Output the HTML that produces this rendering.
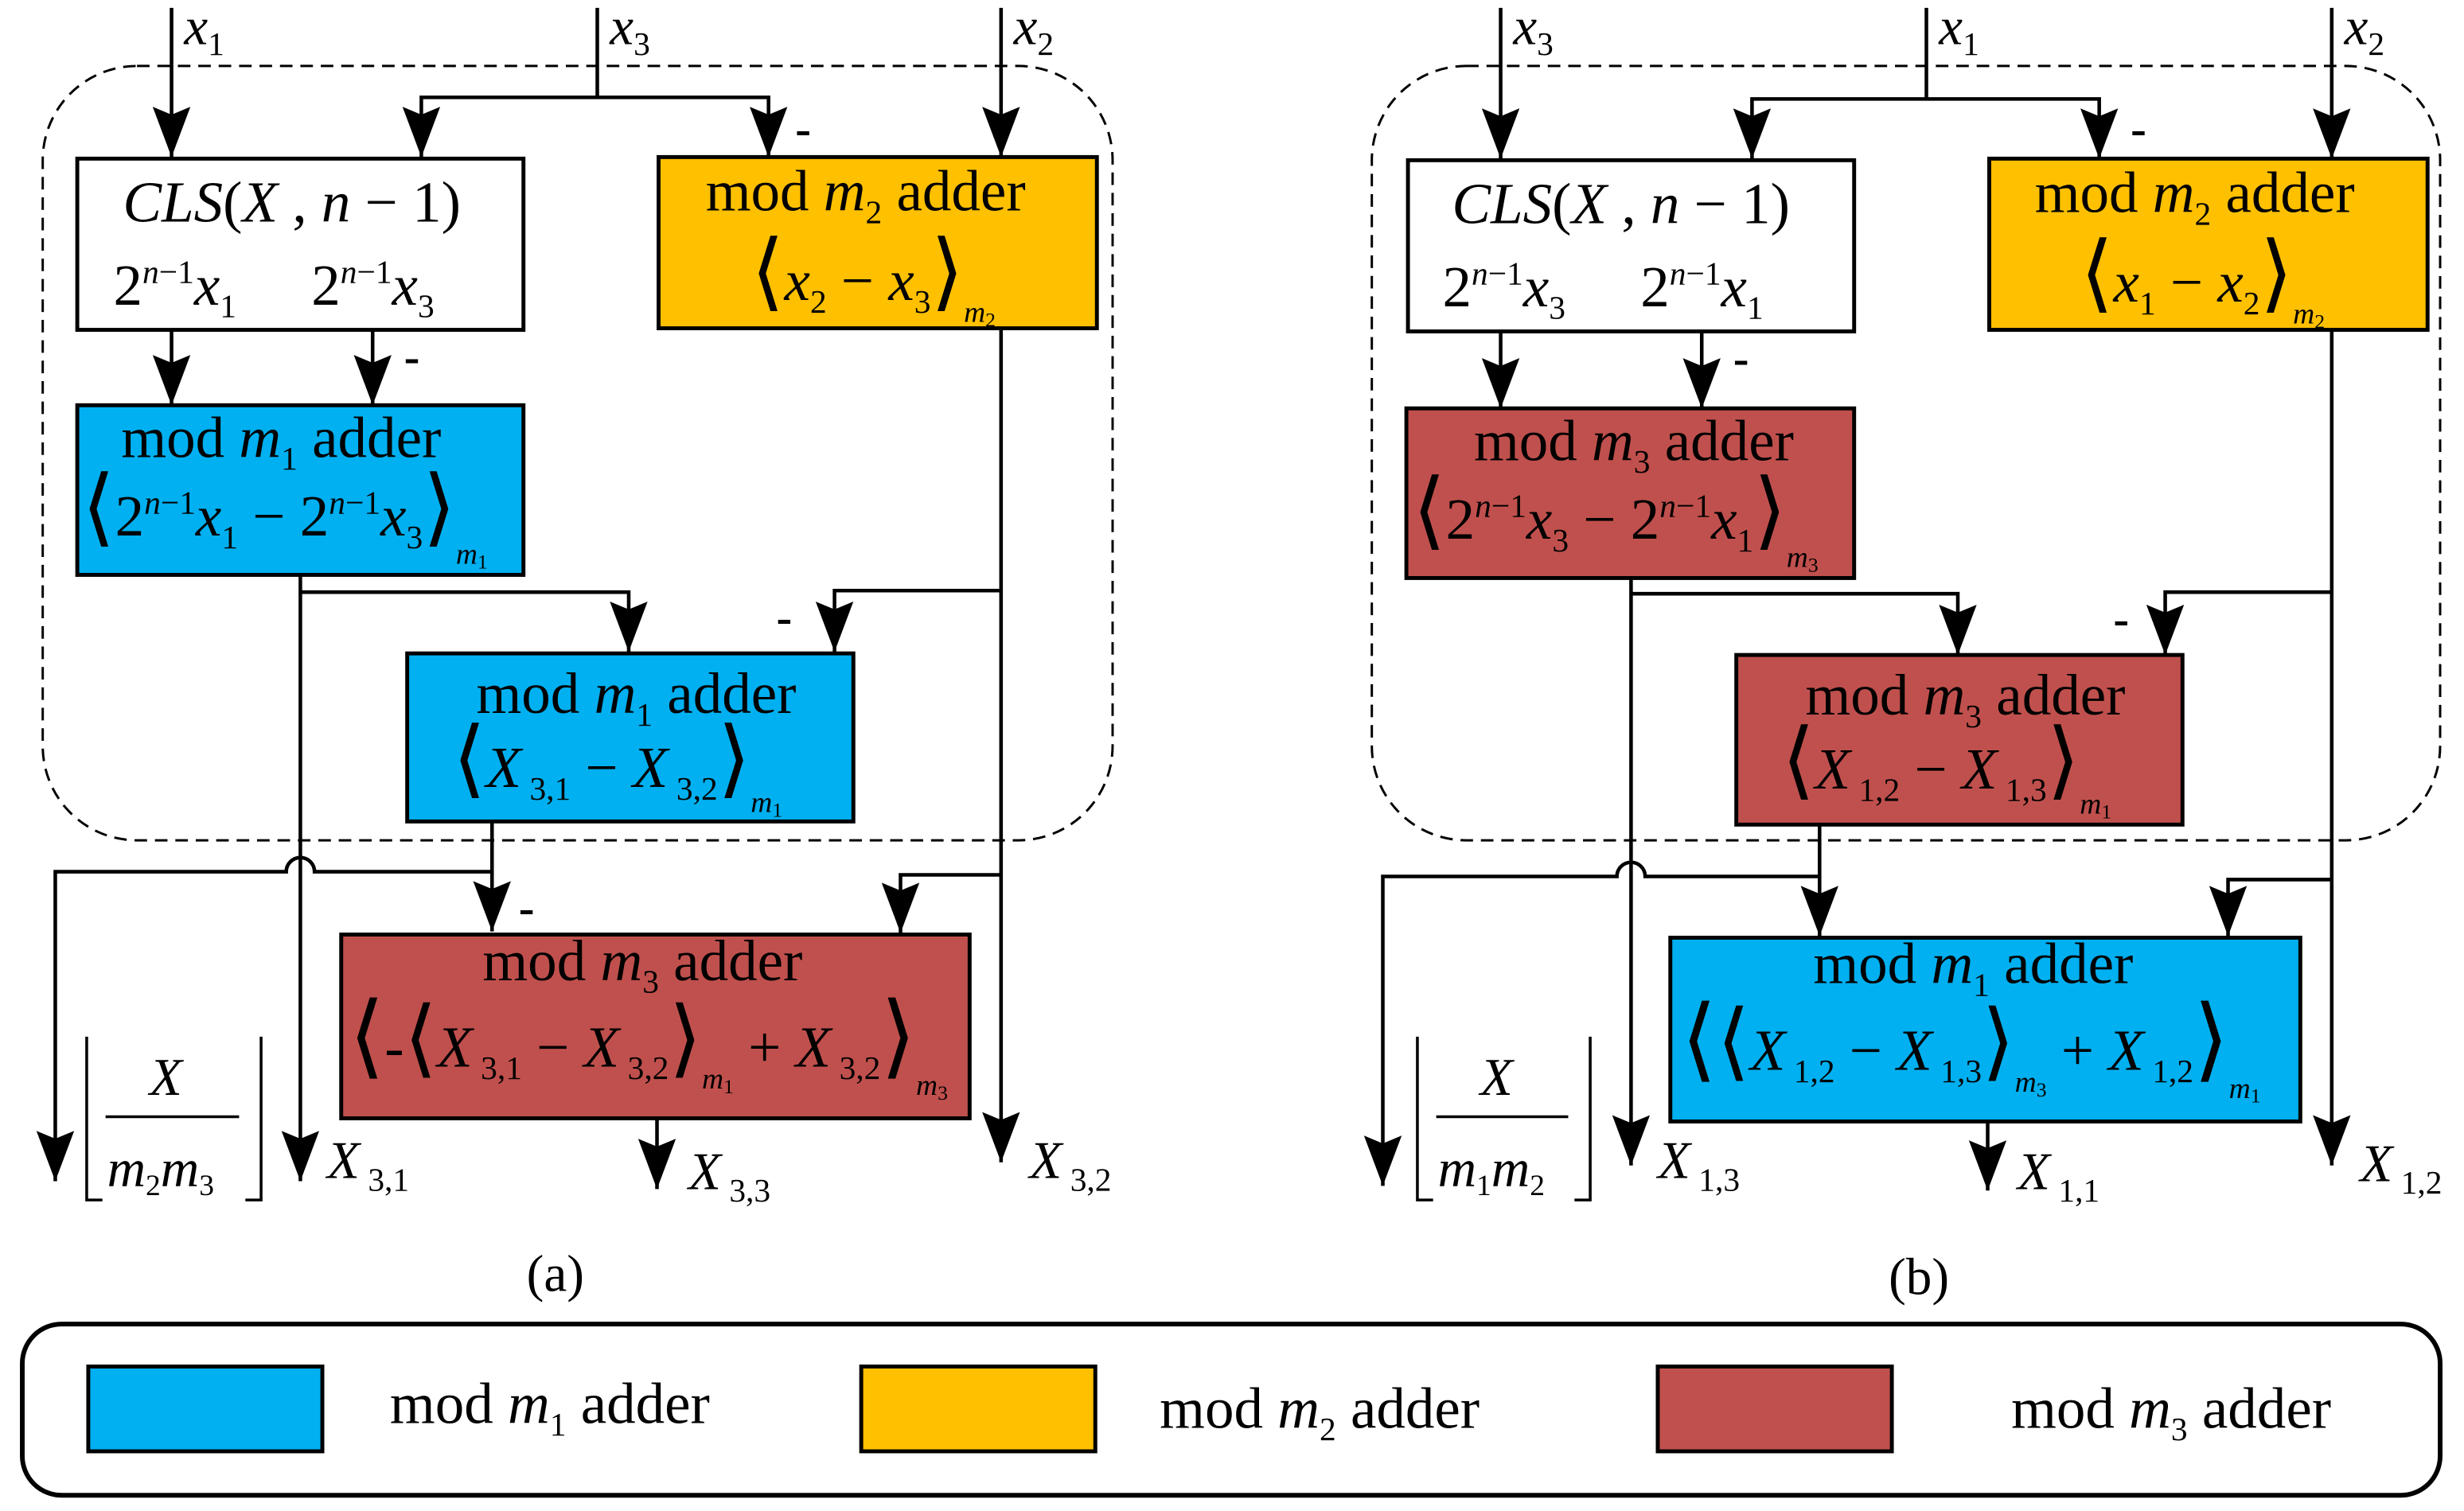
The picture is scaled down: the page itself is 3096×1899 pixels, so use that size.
<!DOCTYPE html>
<html><head><meta charset="utf-8"><style>
html,body{margin:0;padding:0;background:#fff}
svg{display:block}
text{font-family:"Liberation Serif",serif;fill:#000}
.i{font-style:italic}
</style></head><body>
<svg width="3096" height="1899" viewBox="0 0 1568 962" xmlns="http://www.w3.org/2000/svg">
<defs>
<marker id="a" markerUnits="userSpaceOnUse" markerWidth="32" markerHeight="24" viewBox="0 0 32 24" refX="32" refY="12" orient="auto">
<path d="M0,0 L32,12 L0,24 L5,12 z" fill="#000"/></marker>
</defs>
<g stroke="#000" stroke-width="2" fill="none">
<rect x="27" y="42" width="681" height="493" rx="60" stroke-dasharray="8,5" stroke-width="1.5"/>
<rect x="873" y="42" width="680" height="493" rx="60" stroke-dasharray="8,5" stroke-width="1.5"/>
<rect x="14" y="843" width="1539" height="109" rx="25" stroke-width="3"/>
</g>
<g stroke="#000" stroke-width="2.5">
<rect x="49" y="101" width="284" height="109" fill="#fff"/>
<rect x="419" y="100" width="279" height="109" fill="#FFC000"/>
<rect x="49" y="258" width="284" height="108" fill="#00B0F0"/>
<rect x="259" y="416" width="284" height="107" fill="#00B0F0"/>
<rect x="217" y="595" width="400" height="117" fill="#C0504D"/>
<rect x="896" y="102" width="284" height="109" fill="#fff"/>
<rect x="1266" y="101" width="279" height="109" fill="#FFC000"/>
<rect x="895" y="260" width="285" height="108" fill="#C0504D"/>
<rect x="1105" y="417" width="284" height="108" fill="#C0504D"/>
<rect x="1063" y="597" width="401" height="117" fill="#00B0F0"/>
<rect x="56" y="870" width="149" height="54" fill="#00B0F0"/>
<rect x="548" y="870" width="149" height="54" fill="#FFC000"/>
<rect x="1055" y="870" width="149" height="54" fill="#C0504D"/>
</g>
<g stroke="#000" stroke-width="2.3" fill="none" marker-end="url(#a)">
<path d="M109,5 V100"/>
<path d="M380,62 H268 V100"/>
<path d="M380,62 H489 V100"/>
<path d="M637,5 V100"/>
<path d="M109,210 V258"/>
<path d="M237,210 V258"/>
<path d="M191,377 H400 V415"/>
<path d="M637,376 H531 V415"/>
<path d="M191,366 V752"/>
<path d="M637,209 V740"/>
<path d="M313,523 V593"/>
<path d="M313,555 H200 A9,9 0 0 0 182,555 H35 V752"/>
<path d="M637,557 H573 V594"/>
<path d="M418,712 V757"/>
</g>
<path d="M380,5 V62" stroke="#000" stroke-width="2.3"/>
<g stroke="#000" stroke-width="2.3" fill="none" marker-end="url(#a)">
<path d="M955,5 V101"/>
<path d="M1226,63 H1115 V101"/>
<path d="M1226,63 H1336 V101"/>
<path d="M1484,5 V101"/>
<path d="M955,211 V260"/>
<path d="M1083,211 V260"/>
<path d="M1038,378 H1246 V417"/>
<path d="M1484,377 H1378 V417"/>
<path d="M1038,368 V742"/>
<path d="M1484,210 V742"/>
<path d="M1158,525 V596"/>
<path d="M1158,558 H1047 A9,9 0 0 0 1029,558 H880 V755"/>
<path d="M1484,560 H1418 V596"/>
<path d="M1265,714 V758"/>
</g>
<path d="M1226,5 V63" stroke="#000" stroke-width="2.3"/>
<g font-size="30" font-weight="bold">
<text x="506" y="92">-</text><text x="257" y="237">-</text><text x="494" y="403">-</text><text x="330" y="588">-</text>
<text x="1356" y="92">-</text><text x="1103" y="238">-</text><text x="1345" y="404">-</text>
</g>
<g font-size="34">
<text x="117" y="28" class="i">x<tspan font-size="21" dy="7" font-style="normal">1</tspan></text>
<text x="388" y="28" class="i">x<tspan font-size="21" dy="7" font-style="normal">3</tspan></text>
<text x="645" y="28" class="i">x<tspan font-size="21" dy="7" font-style="normal">2</tspan></text>
<text x="963" y="28" class="i">x<tspan font-size="21" dy="7" font-style="normal">3</tspan></text>
<text x="1234" y="28" class="i">x<tspan font-size="21" dy="7" font-style="normal">1</tspan></text>
<text x="1492" y="28" class="i">x<tspan font-size="21" dy="7" font-style="normal">2</tspan></text>
</g>
<g font-size="37">
<text x="78" y="141"><tspan class="i">CLS</tspan>(<tspan class="i">X</tspan> , <tspan class="i">n</tspan> − 1)</text>
<text x="72" y="194">2<tspan font-size="21" dy="-14" class="i">n</tspan><tspan font-size="21">−1</tspan><tspan class="i" dy="14">x</tspan><tspan font-size="21" dy="8">1</tspan></text>
<text x="198" y="194">2<tspan font-size="21" dy="-14" class="i">n</tspan><tspan font-size="21">−1</tspan><tspan class="i" dy="14">x</tspan><tspan font-size="21" dy="8">3</tspan></text>
<text x="449" y="134">mod <tspan class="i">m</tspan><tspan font-size="21" dy="8">2</tspan><tspan dy="-8"> adder</tspan></text>
<text x="478" y="191"><tspan font-size="54">⟨</tspan><tspan class="i">x</tspan><tspan font-size="21" dy="8">2</tspan><tspan dy="-8"> − </tspan><tspan class="i">x</tspan><tspan font-size="21" dy="8">3</tspan><tspan font-size="54" dy="-8">⟩</tspan><tspan class="i" font-size="19" dy="14">m</tspan><tspan font-size="13" dy="3">2</tspan></text>
<text x="77" y="291">mod <tspan class="i">m</tspan><tspan font-size="21" dy="8">1</tspan><tspan dy="-8"> adder</tspan></text>
<text x="52" y="341"><tspan font-size="54">⟨</tspan>2<tspan font-size="21" dy="-14" class="i">n</tspan><tspan font-size="21">−1</tspan><tspan class="i" dy="14">x</tspan><tspan font-size="21" dy="8">1</tspan><tspan dy="-8"> − 2</tspan><tspan font-size="21" dy="-14" class="i">n</tspan><tspan font-size="21">−1</tspan><tspan class="i" dy="14">x</tspan><tspan font-size="21" dy="8">3</tspan><tspan font-size="54" dy="-8">⟩</tspan><tspan class="i" font-size="19" dy="18">m</tspan><tspan font-size="13" dy="3">1</tspan></text>
<text x="303" y="454">mod <tspan class="i">m</tspan><tspan font-size="21" dy="8">1</tspan><tspan dy="-8"> adder</tspan></text>
<text x="288" y="501"><tspan font-size="54">⟨</tspan><tspan class="i">X</tspan><tspan font-size="21" dy="8"> 3,1</tspan><tspan dy="-8"> − </tspan><tspan class="i">X</tspan><tspan font-size="21" dy="8"> 3,2</tspan><tspan font-size="54" dy="-8">⟩</tspan><tspan class="i" font-size="19" dy="16">m</tspan><tspan font-size="13" dy="3">1</tspan></text>
<text x="307" y="624">mod <tspan class="i">m</tspan><tspan font-size="21" dy="8">3</tspan><tspan dy="-8"> adder</tspan></text>
<text x="222" y="679"><tspan font-size="58">⟨</tspan>-<tspan font-size="54">⟨</tspan><tspan class="i">X</tspan><tspan font-size="21" dy="8"> 3,1</tspan><tspan dy="-8"> − </tspan><tspan class="i">X</tspan><tspan font-size="21" dy="8"> 3,2</tspan><tspan font-size="54" dy="-8">⟩</tspan><tspan class="i" font-size="19" dy="14">m</tspan><tspan font-size="13" dy="3">1</tspan><tspan dy="-17"> + </tspan><tspan class="i">X</tspan><tspan font-size="21" dy="8"> 3,2</tspan><tspan font-size="58" dy="-8">⟩</tspan><tspan class="i" font-size="19" dy="18">m</tspan><tspan font-size="13" dy="3">3</tspan></text>
</g>
<g font-size="37">
<text x="924" y="142"><tspan class="i">CLS</tspan>(<tspan class="i">X</tspan> , <tspan class="i">n</tspan> − 1)</text>
<text x="918" y="195">2<tspan font-size="21" dy="-14" class="i">n</tspan><tspan font-size="21">−1</tspan><tspan class="i" dy="14">x</tspan><tspan font-size="21" dy="8">3</tspan></text>
<text x="1044" y="195">2<tspan font-size="21" dy="-14" class="i">n</tspan><tspan font-size="21">−1</tspan><tspan class="i" dy="14">x</tspan><tspan font-size="21" dy="8">1</tspan></text>
<text x="1295" y="135">mod <tspan class="i">m</tspan><tspan font-size="21" dy="8">2</tspan><tspan dy="-8"> adder</tspan></text>
<text x="1324" y="192"><tspan font-size="54">⟨</tspan><tspan class="i">x</tspan><tspan font-size="21" dy="8">1</tspan><tspan dy="-8"> − </tspan><tspan class="i">x</tspan><tspan font-size="21" dy="8">2</tspan><tspan font-size="54" dy="-8">⟩</tspan><tspan class="i" font-size="19" dy="14">m</tspan><tspan font-size="13" dy="3">2</tspan></text>
<text x="938" y="293">mod <tspan class="i">m</tspan><tspan font-size="21" dy="8">3</tspan><tspan dy="-8"> adder</tspan></text>
<text x="899" y="343"><tspan font-size="54">⟨</tspan>2<tspan font-size="21" dy="-14" class="i">n</tspan><tspan font-size="21">−1</tspan><tspan class="i" dy="14">x</tspan><tspan font-size="21" dy="8">3</tspan><tspan dy="-8"> − 2</tspan><tspan font-size="21" dy="-14" class="i">n</tspan><tspan font-size="21">−1</tspan><tspan class="i" dy="14">x</tspan><tspan font-size="21" dy="8">1</tspan><tspan font-size="54" dy="-8">⟩</tspan><tspan class="i" font-size="19" dy="18">m</tspan><tspan font-size="13" dy="3">3</tspan></text>
<text x="1149" y="455">mod <tspan class="i">m</tspan><tspan font-size="21" dy="8">3</tspan><tspan dy="-8"> adder</tspan></text>
<text x="1134" y="502"><tspan font-size="54">⟨</tspan><tspan class="i">X</tspan><tspan font-size="21" dy="8"> 1,2</tspan><tspan dy="-8"> − </tspan><tspan class="i">X</tspan><tspan font-size="21" dy="8"> 1,3</tspan><tspan font-size="54" dy="-8">⟩</tspan><tspan class="i" font-size="19" dy="16">m</tspan><tspan font-size="13" dy="3">1</tspan></text>
<text x="1154" y="626">mod <tspan class="i">m</tspan><tspan font-size="21" dy="8">1</tspan><tspan dy="-8"> adder</tspan></text>
<text x="1070" y="681"><tspan font-size="58">⟨</tspan><tspan font-size="54">⟨</tspan><tspan class="i">X</tspan><tspan font-size="21" dy="8"> 1,2</tspan><tspan dy="-8"> − </tspan><tspan class="i">X</tspan><tspan font-size="21" dy="8"> 1,3</tspan><tspan font-size="54" dy="-8">⟩</tspan><tspan class="i" font-size="19" dy="14">m</tspan><tspan font-size="13" dy="3">3</tspan><tspan dy="-17"> + </tspan><tspan class="i">X</tspan><tspan font-size="21" dy="8"> 1,2</tspan><tspan font-size="58" dy="-8">⟩</tspan><tspan class="i" font-size="19" dy="18">m</tspan><tspan font-size="13" dy="3">1</tspan></text>
</g>
<g font-size="34">
<text x="208" y="750" class="i">X<tspan font-size="21" dy="8" font-style="normal"> 3,1</tspan></text>
<text x="438" y="757" class="i">X<tspan font-size="21" dy="8" font-style="normal"> 3,3</tspan></text>
<text x="655" y="750" class="i">X<tspan font-size="21" dy="8" font-style="normal"> 3,2</tspan></text>
<text x="1055" y="750" class="i">X<tspan font-size="21" dy="8" font-style="normal"> 1,3</tspan></text>
<text x="1284" y="757" class="i">X<tspan font-size="21" dy="8" font-style="normal"> 1,1</tspan></text>
<text x="1502" y="752" class="i">X<tspan font-size="21" dy="8" font-style="normal"> 1,2</tspan></text>
</g>
<g stroke="#000" stroke-width="1.8" fill="none">
<path d="M55,660 V764 H65"/><path d="M166,660 V764 H156"/><path d="M67,711 H152"/>
<path d="M902,660 V764 H912"/><path d="M1012,660 V764 H1002"/><path d="M914,711 H998"/>
</g>
<g font-size="34">
<text x="95" y="697" class="i">X</text>
<text x="68" y="755" class="i">m<tspan font-size="19" dy="6" font-style="normal">2</tspan><tspan dy="-6">m</tspan><tspan font-size="19" dy="6" font-style="normal">3</tspan></text>
<text x="942" y="697" class="i">X</text>
<text x="915" y="755" class="i">m<tspan font-size="19" dy="6" font-style="normal">1</tspan><tspan dy="-6">m</tspan><tspan font-size="19" dy="6" font-style="normal">2</tspan></text>
</g>
<g font-size="33">
<text x="335" y="822">(a)</text>
<text x="1202" y="824">(b)</text>
</g>
<g font-size="37">
<text x="248" y="906">mod  <tspan class="i">m</tspan><tspan font-size="21" dy="8">1</tspan><tspan dy="-8"> adder</tspan></text>
<text x="738" y="909">mod  <tspan class="i">m</tspan><tspan font-size="21" dy="8">2</tspan><tspan dy="-8"> adder</tspan></text>
<text x="1280" y="909">mod  <tspan class="i">m</tspan><tspan font-size="21" dy="8">3</tspan><tspan dy="-8"> adder</tspan></text>
</g>
</svg>
</body></html>
